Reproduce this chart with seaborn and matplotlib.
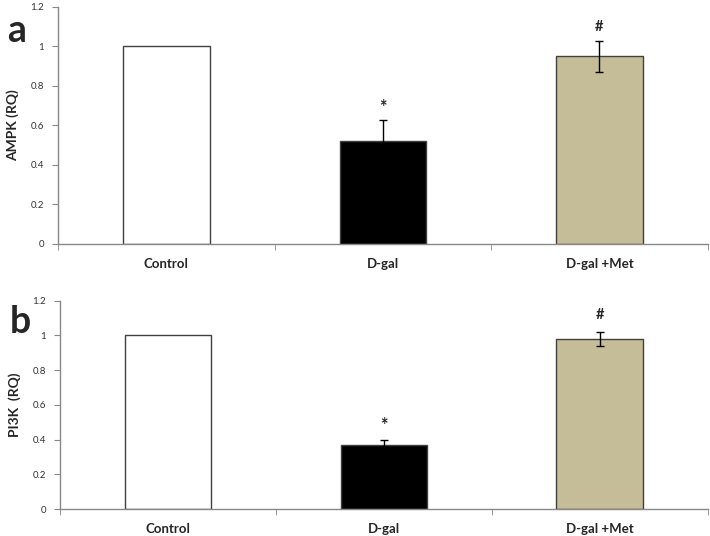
import numpy as np
import pandas as pd
import matplotlib
matplotlib.use("Agg")
import matplotlib.pyplot as plt
from matplotlib.ticker import FixedLocator
import seaborn as sns

# data
groups = ["Control", "D-gal", "D-gal +Met"]
bar_colors = ["#FFFFFF", "#000000", "#C4BD97"]

ampk_mean = [1.0, 0.52, 0.95]
ampk_err = [0.0, 0.11, 0.08]
ampk_marks = ["", "*", "#"]
ampk_mark_y = [None, 0.69, 1.10]

pi3k_mean = [1.0, 0.37, 0.98]
pi3k_err = [0.0, 0.03, 0.04]
pi3k_marks = ["", "*", "#"]
pi3k_mark_y = [None, 0.48, 1.12]

y_ticks = [0, 0.2, 0.4, 0.6, 0.8, 1.0, 1.2]
y_ticklabels = ["0", "0.2", "0.4", "0.6", "0.8", "1", "1.2"]

sns.set_style("white")
plt.rcParams["font.family"] = ["Lato", "DejaVu Sans"]


def panel(ax, means, errs, marks, mark_y, ylabel, letter):
    df = pd.DataFrame({"group": groups, "value": means})
    sns.barplot(data=df, x="group", y="value", hue="group", order=groups,
                hue_order=groups, palette=bar_colors, legend=False,
                width=0.4, edgecolor="#404040", linewidth=1.0, saturation=1,
                ax=ax)
    for i, (m, e) in enumerate(zip(means, errs)):
        if e > 0:
            ax.errorbar(i, m, yerr=e, fmt="none", ecolor="black",
                        elinewidth=1.0, capsize=3, capthick=1.0, zorder=5)
        if marks[i]:
            ax.text(i, mark_y[i], marks[i], ha="center", va="center",
                    fontsize=13 if marks[i] == "*" else 10.5,
                    fontweight="bold")
    ax.set_xlim(-0.5, 2.5)
    ax.set_ylim(0, 1.2)
    ax.set_yticks(y_ticks)
    ax.set_yticklabels(y_ticklabels, fontsize=7, color="#333333")
    ax.set_xticks(range(len(groups)))
    ax.set_xticklabels(groups, fontsize=9.5, fontweight="bold")
    ax.xaxis.set_minor_locator(FixedLocator([-0.5, 0.5, 1.5, 2.5]))
    ax.tick_params(axis="x", which="major", length=0, pad=10)
    ax.tick_params(axis="x", which="minor", length=4, color="#888888",
                   direction="out", bottom=True)
    ax.tick_params(axis="y", length=4, color="#888888", direction="out",
                   left=True, pad=6)
    ax.set_xlabel("")
    ax.set_ylabel(ylabel, fontsize=10, fontweight="bold", labelpad=8)
    for s in ["top", "right"]:
        ax.spines[s].set_visible(False)
    for s in ["left", "bottom"]:
        ax.spines[s].set_color("#888888")
        ax.spines[s].set_linewidth(1.0)
    ax.text(-0.078, 0.90, letter, transform=ax.transAxes, fontsize=27,
            fontweight="bold", ha="left", va="center")


fig = plt.figure(figsize=(7.1, 5.36), dpi=100)
ax1 = fig.add_axes([0.0817, 0.545, 0.915, 0.442])
ax2 = fig.add_axes([0.0845, 0.050, 0.912, 0.389])

panel(ax1, ampk_mean, ampk_err, ampk_marks, ampk_mark_y, "AMPK (RQ)", "a")
panel(ax2, pi3k_mean, pi3k_err, pi3k_marks, pi3k_mark_y, "PI3K  (RQ)", "b")

fig.savefig("out.png", dpi=100)
